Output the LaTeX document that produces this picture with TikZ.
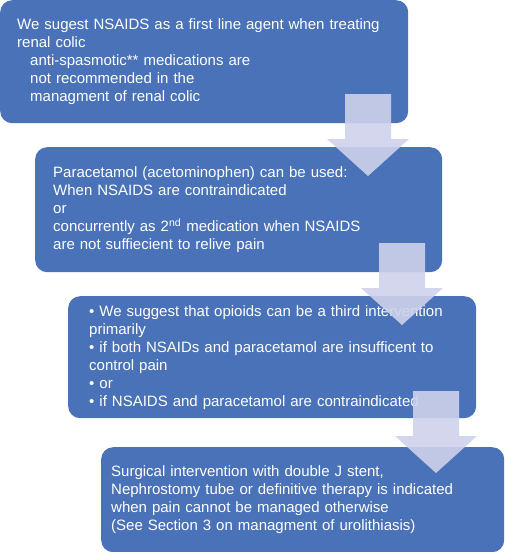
\documentclass[tikz,border=0pt]{standalone}
\usepackage{fontspec}
\setmainfont{Liberation Sans}
\definecolor{boxblue}{HTML}{4A72B8}
\definecolor{arrowfill}{HTML}{CED2EA}
\tikzset{
  flowbox/.style={fill=boxblue, rounded corners=12pt, text=white, align=left,
    anchor=north west, inner ysep=0pt, font=\fontsize{15}{18}\selectfont},
  downarrow/.pic={
    \fill[arrowfill, fill opacity=0.9] (-23,0) -- (23,0) -- (23,45) -- (41,45)
      -- (0,82) -- (-41,45) -- (-23,45) -- cycle;
  }
}
\begin{document}
\begin{tikzpicture}[x=1pt, y=-1pt]
    \useasboundingbox (0,0) rectangle (504,552);

    % Draw boxes
    \node[flowbox, minimum width=408, minimum height=123, inner xsep=17pt, text width=374pt] (nsaid) at (0,0)
        {We sugest NSAIDS as a first line agent when treating\\
         renal colic\\
         \hspace*{13pt}anti-spasmotic** medications are\\
         \hspace*{13pt}not recommended in the\\
         \hspace*{13pt}managment of renal colic};
    \node[flowbox, minimum width=407, minimum height=125, inner xsep=18pt, text width=371pt] (paracet) at (35,147)
        {Paracetamol (acetominophen) can be used:\\
         When NSAIDS are contraindicated\\
         or\\
         concurrently as 2\textsuperscript{nd} medication when NSAIDS\\
         are not suffiecient to relive pain};
    \node[flowbox, minimum width=408, minimum height=122, inner xsep=21pt, text width=366pt] (opioid) at (68,296)
        {\textbullet{} We suggest that opioids can be a third intervention\\
         primarily\\
         \textbullet{} if both NSAIDs and paracetamol are insufficent to\\
         control pain\\
         \textbullet{} or\\
         \textbullet{} if NSAIDS and paracetamol are contraindicated};
    \node[flowbox, minimum width=403, minimum height=105, inner xsep=10pt, text width=383pt] (surgery) at (101,447)
        {Surgical intervention with double J stent,\\
         Nephrostomy tube or definitive therapy is indicated\\
         when pain cannot be managed otherwise\\
         (See Section 3 on managment of urolithiasis)};

    % Draw arrows
    \pic (step1) at (368,94) {downarrow};
    \pic (step2) at (402,243) {downarrow};
    \pic (step3) at (436,391) {downarrow};
\end{tikzpicture}
\end{document}
